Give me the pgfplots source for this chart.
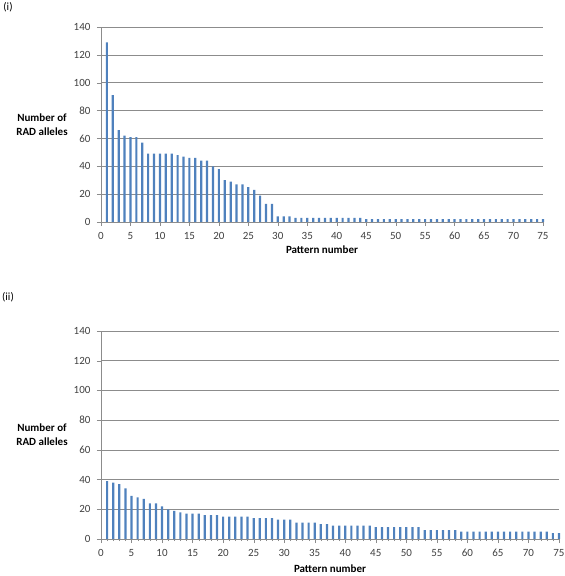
\documentclass[border=0pt]{standalone}
\usepackage{fontspec}
\setmainfont{Carlito}
\usepackage{pgfplots}
\pgfplotsset{compat=1.18}
\usepackage{pgfplotstable}
\definecolor{barblue}{HTML}{4F81BD}
\definecolor{gridgray}{HTML}{8C8C8C}
\definecolor{ticktext}{HTML}{404040}

\pgfplotstableread{
x y
1 129
2 91
3 66
4 62
5 61
6 61
7 57
8 49
9 49
10 49
11 49
12 49
13 48
14 47
15 46
16 46
17 44
18 44
19 40
20 38
21 30
22 29
23 27
24 27
25 25
26 23
27 19
28 13
29 13
30 4
31 4
32 4
33 3
34 3
35 3
36 3
37 3
38 3
39 3
40 3
41 3
42 3
43 3
44 3
45 2
46 2
47 2
48 2
49 2
50 2
51 2
52 2
53 2
54 2
55 2
56 2
57 2
58 2
59 2
60 2
61 2
62 2
63 2
64 2
65 2
66 2
67 2
68 2
69 2
70 2
71 2
72 2
73 2
74 2
75 2
}\tableone

\pgfplotstableread{
x y
1 39
2 38
3 37
4 34
5 29
6 28
7 27
8 24
9 24
10 22
11 20
12 19
13 18
14 17
15 17
16 17
17 16
18 16
19 16
20 15
21 15
22 15
23 15
24 15
25 14
26 14
27 14
28 14
29 13
30 13
31 13
32 11
33 11
34 11
35 11
36 10
37 10
38 9
39 9
40 9
41 9
42 9
43 9
44 9
45 8
46 8
47 8
48 8
49 8
50 8
51 8
52 8
53 6
54 6
55 6
56 6
57 6
58 6
59 5
60 5
61 5
62 5
63 5
64 5
65 5
66 5
67 5
68 5
69 5
70 5
71 5
72 5
73 5
74 4
75 4
}\tabletwo

\pgfplotsset{
  radstyle/.style={
    scale only axis,
    anchor=south west,
    xmin=0, xmax=75, ymin=0, ymax=140,
    xtick={0,5,...,75}, ytick={0,20,...,140},
    axis x line*=bottom, axis y line*=left,
    axis line style={-, draw=gridgray},
    ymajorgrids, grid style={gridgray, line width=0.6pt},
    major tick style={gridgray},
    tick align=outside, major tick length=4pt,
    /pgf/number format/assume math mode=true,
    ticklabel style={font=\fontsize{11}{13}\selectfont, text=ticktext},
    xticklabel style={yshift=-2.5pt},
    yticklabel style={xshift=-3pt},
    ybar, bar width=2.2pt,
    clip=false,
    xlabel={\textbf{Pattern number}},
    xlabel style={font=\fontsize{11}{13}\selectfont, at={(axis description cs:0.5,0)}, anchor=center},
    ylabel={\textbf{Number of}\\\textbf{RAD alleles}},
    ylabel style={font=\fontsize{11}{14}\selectfont, rotate=-90, at={(axis description cs:0,0.5)}, anchor=center, align=center, xshift=-59pt},
  }
}

\begin{document}
\begin{tikzpicture}[x=1pt,y=1pt]
\path[use as bounding box] (0,0) rectangle (565,576);
\node[font=\fontsize{11}{13}\selectfont] at (8,569) {(i)};
\node[font=\fontsize{11}{13}\selectfont] at (8,279) {(ii)};

\begin{axis}[radstyle, at={(101pt,354pt)}, width=442pt, height=195pt,
  xlabel style={yshift=-28pt}]
  \addplot[fill=barblue, draw=none] table[x=x,y=y] {\tableone};
\end{axis}

\begin{axis}[radstyle, at={(101pt,37pt)}, width=458pt, height=208pt,
  minor xtick={1,...,75}, minor tick length=2pt, minor tick style={gridgray},
  xlabel style={yshift=-29.5pt}]
  \addplot[fill=barblue, draw=none] table[x=x,y=y] {\tabletwo};
\end{axis}
\end{tikzpicture}
\end{document}
